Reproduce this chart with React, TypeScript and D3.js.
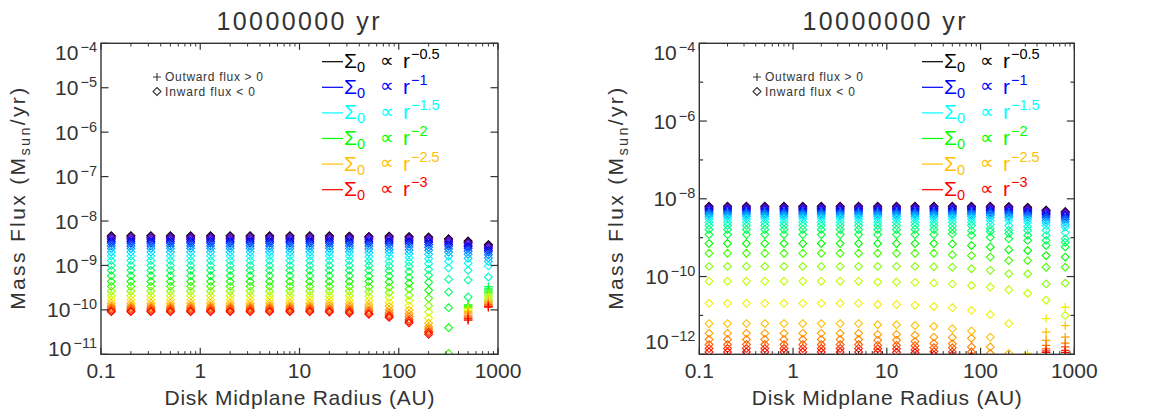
import React from "react";
import * as d3 from "d3";

// ---------------- data ----------------
const radiusAU = [0.127, 0.2, 0.318, 0.5, 0.8, 1.27, 2, 3.18, 5, 8, 12.7, 20, 31.8, 50, 80, 127, 200, 318, 500, 800];
const powerIndex = [0.5, 0.6, 0.7, 0.8, 0.9, 1.0, 1.1, 1.2, 1.3, 1.4, 1.5, 1.6, 1.7, 1.8, 1.9, 2.0, 2.1, 2.2, 2.3, 2.4, 2.5, 2.6, 2.7, 2.8, 2.9, 3.0];

const legendPowers = [0.5, 1, 1.5, 2, 2.5, 3];
const legendExponents = ["\u22120.5", "\u22121", "\u22121.5", "\u22122", "\u22122.5", "\u22123"];
const titleText = "10000000 yr";
const xTickValues = [0.1, 1, 10, 100, 1000];
const xTickLabels = ["0.1", "1", "10", "100", "1000"];
const leftYExponents = [-4, -5, -6, -7, -8, -9, -10, -11];
const rightYExponents = [-4, -5, -6, -7, -8, -9, -10, -11, -12];
const rightYLabelled = [-4, -6, -8, -10, -12];

// log10 |mass flux| (Msun/yr); one array per radius, one value per power index
const innerLeft = [-8.33, -8.34, -8.37, -8.39, -8.42, -8.46, -8.50, -8.56, -8.62, -8.70, -8.79, -8.89, -9.00, -9.11, -9.23, -9.36, -9.47, -9.58, -9.68, -9.77, -9.85, -9.91, -9.95, -9.98, -10.02, -10.04];
const logFluxLeft = [
  innerLeft, innerLeft, innerLeft, innerLeft, innerLeft, innerLeft, innerLeft, innerLeft, innerLeft, innerLeft, innerLeft,
  [-8.33, -8.34, -8.37, -8.39, -8.42, -8.46, -8.50, -8.56, -8.62, -8.70, -8.79, -8.89, -9.00, -9.11, -9.23, -9.36, -9.47, -9.58, -9.68, -9.77, -9.85, -9.91, -9.96, -10.00, -10.03, -10.05],
  [-8.34, -8.35, -8.37, -8.39, -8.42, -8.46, -8.50, -8.56, -8.62, -8.70, -8.79, -8.89, -9.00, -9.11, -9.23, -9.36, -9.47, -9.58, -9.68, -9.78, -9.86, -9.92, -9.97, -10.01, -10.04, -10.07],
  [-8.35, -8.35, -8.37, -8.39, -8.42, -8.46, -8.50, -8.56, -8.63, -8.71, -8.80, -8.90, -9.00, -9.11, -9.24, -9.36, -9.48, -9.59, -9.70, -9.79, -9.88, -9.94, -10.00, -10.04, -10.08, -10.10],
  [-8.34, -8.35, -8.37, -8.40, -8.43, -8.47, -8.51, -8.57, -8.64, -8.71, -8.80, -8.91, -9.01, -9.12, -9.24, -9.37, -9.49, -9.61, -9.72, -9.83, -9.92, -10.00, -10.06, -10.11, -10.14, -10.17],
  [-8.35, -8.36, -8.38, -8.41, -8.44, -8.47, -8.52, -8.58, -8.65, -8.73, -8.82, -8.92, -9.02, -9.14, -9.27, -9.40, -9.53, -9.67, -9.79, -9.91, -10.01, -10.09, -10.15, -10.21, -10.25, -10.29],
  [-8.36, -8.37, -8.39, -8.42, -8.45, -8.48, -8.53, -8.59, -8.66, -8.75, -8.85, -8.96, -9.09, -9.22, -9.38, -9.56, -9.74, -9.91, -10.05, -10.19, -10.30, -10.38, -10.43, -10.48, -10.51, -10.55],
  [-8.40, -8.41, -8.43, -8.46, -8.49, -8.53, -8.57, -8.63, -8.70, -8.79, -8.91, -9.06, -9.31, -9.60, -9.95, -10.40, -10.98, -11.60, -12.00, -12.00, -12.00, -12.00, -12.00, -12.00, -12.00, -12.00],
  [-8.45, -8.47, -8.49, -8.51, -8.55, -8.58, -8.62, -8.68, -8.75, -8.84, -8.95, -9.11, -9.33, -9.71, -11.80, -9.89, -9.93, -9.95, -9.97, -10.01, -10.04, -10.07, -10.12, -10.16, -10.20, -10.23],
  [-8.53, -8.55, -8.57, -8.59, -8.62, -8.66, -8.70, -8.76, -8.83, -8.91, -9.01, -9.26, -9.78, -9.48, -9.53, -9.58, -9.62, -9.67, -9.71, -9.76, -9.80, -9.84, -9.87, -9.89, -9.92, -9.94],
];
// first power-index position whose flux is outward (positive); 26 = none
const outwardFromLeft = [26, 26, 26, 26, 26, 26, 26, 26, 26, 26, 26, 26, 26, 26, 26, 26, 26, 17, 14, 13];

const innerRight = [-8.19, -8.20, -8.22, -8.24, -8.26, -8.29, -8.33, -8.37, -8.41, -8.46, -8.52, -8.60, -8.69, -8.79, -8.92, -9.15, -9.40, -9.74, -10.12, -10.69, -11.21, -11.46, -11.62, -11.75, -11.85, -11.94];
const logFluxRight = [
  innerRight, innerRight, innerRight, innerRight, innerRight, innerRight, innerRight, innerRight, innerRight,
  [-8.19, -8.20, -8.22, -8.24, -8.26, -8.29, -8.33, -8.37, -8.41, -8.46, -8.52, -8.60, -8.69, -8.79, -8.92, -9.15, -9.40, -9.74, -10.14, -10.72, -11.24, -11.49, -11.64, -11.77, -11.86, -11.95],
  [-8.19, -8.20, -8.22, -8.24, -8.26, -8.29, -8.33, -8.37, -8.41, -8.46, -8.52, -8.60, -8.69, -8.79, -8.92, -9.15, -9.40, -9.74, -10.14, -10.72, -11.24, -11.49, -11.64, -11.77, -11.86, -11.95],
  [-8.19, -8.20, -8.22, -8.24, -8.26, -8.29, -8.33, -8.37, -8.41, -8.46, -8.52, -8.60, -8.69, -8.79, -8.92, -9.15, -9.40, -9.74, -10.15, -10.74, -11.26, -11.51, -11.67, -11.78, -11.88, -11.96],
  [-8.19, -8.20, -8.22, -8.24, -8.26, -8.29, -8.33, -8.37, -8.41, -8.46, -8.52, -8.60, -8.69, -8.79, -8.92, -9.15, -9.40, -9.75, -10.17, -10.77, -11.28, -11.56, -11.72, -11.83, -11.93, -12.02],
  [-8.19, -8.20, -8.22, -8.24, -8.26, -8.29, -8.33, -8.37, -8.41, -8.46, -8.52, -8.60, -8.70, -8.80, -8.90, -9.16, -9.44, -9.76, -10.19, -10.80, -11.34, -11.57, -11.73, -11.83, -11.94, -12.02],
  [-8.19, -8.20, -8.22, -8.24, -8.26, -8.29, -8.33, -8.37, -8.41, -8.46, -8.52, -8.60, -8.69, -8.82, -8.94, -9.20, -9.46, -9.80, -10.23, -10.87, -11.40, -11.59, -11.81, -11.94, -12.05, -12.10],
  [-8.19, -8.21, -8.22, -8.24, -8.27, -8.30, -8.34, -8.38, -8.42, -8.48, -8.56, -8.66, -8.77, -8.84, -8.99, -9.24, -9.50, -9.84, -10.27, -10.98, -11.56, -11.81, -11.98, -12.10, -12.20, -12.30],
  [-8.20, -8.21, -8.23, -8.25, -8.28, -8.31, -8.35, -8.39, -8.44, -8.49, -8.56, -8.69, -8.81, -8.89, -9.03, -9.31, -9.59, -9.93, -10.34, -11.21, -11.98, -12.30, -12.30, -12.30, -12.30, -12.30],
  [-8.22, -8.24, -8.26, -8.28, -8.31, -8.34, -8.38, -8.42, -8.47, -8.53, -8.60, -8.71, -8.81, -8.94, -9.07, -9.33, -9.59, -9.93, -10.43, -11.98, -12.50, -12.50, -12.50, -12.50, -12.50, -12.50],
  [-8.29, -8.30, -8.32, -8.34, -8.37, -8.40, -8.44, -8.49, -8.55, -8.61, -8.69, -8.81, -8.94, -9.07, -9.20, -9.46, -9.76, -10.19, -10.61, -11.08, -11.43, -11.64, -11.77, -11.86, -11.91, -11.95],
  [-8.33, -8.34, -8.36, -8.38, -8.41, -8.44, -8.49, -8.53, -8.59, -8.66, -8.73, -8.87, -9.03, -9.12, -9.24, -9.50, -9.76, -10.17, -11.00, -10.79, -11.26, -11.56, -11.71, -11.81, -11.90, -11.95],
];
const outwardFromRight = [26, 26, 26, 26, 26, 26, 26, 26, 26, 26, 26, 26, 26, 26, 26, 26, 26, 19, 19, 19];

// ---------------- style ----------------
const FONT = "'Liberation Sans', Arial, Helvetica, sans-serif";
const INK = "#333333";
const rainbow = d3
  .scaleLinear<string>()
  .domain([0.5, 0.65, 0.75, 0.9, 1.0, 1.25, 1.5, 1.75, 2.0, 2.2, 2.35, 2.45, 2.5, 2.75, 3.0])
  .range(["#000000", "#3a0058", "#6400b0", "#3410e0", "#0000ff", "#0088ff", "#00ffff", "#00ff88", "#00ff00", "#80ff00", "#e0ff00", "#ffe000", "#ffc000", "#ff7000", "#ff0000"])
  .interpolate(d3.interpolateRgb)
  .clamp(true);

type PanelCfg = {
  id: string;
  x0: number; x1: number; y0: number; y1: number;
  yMin: number;
  yTicks: number[];
  yLabelled: number[];
  bottomLabelLift: number;
  data: number[][];
  outwardFrom: number[];
  titleX: number;
  yTitleX: number;
  legendX: number;
  noteX: number;
};

const panels: PanelCfg[] = [
  {
    id: "L", x0: 101, x1: 498, y0: 43.3, y1: 354.3, yMin: 1e-11,
    yTicks: leftYExponents, yLabelled: leftYExponents, bottomLabelLift: 6,
    data: logFluxLeft, outwardFrom: outwardFromLeft,
    titleX: 298, yTitleX: 25, legendX: 322, noteX: 157,
  },
  {
    id: "R", x0: 699.3, x1: 1074.3, y0: 43.3, y1: 354.3, yMin: 1e-12,
    yTicks: rightYExponents, yLabelled: rightYLabelled, bottomLabelLift: 13,
    data: logFluxRight, outwardFrom: outwardFromRight,
    titleX: 884, yTitleX: 623, legendX: 922, noteX: 757,
  },
];

function Panel({ p }: { p: PanelCfg }) {
  const x = d3.scaleLog().domain([0.1, 1000]).range([p.x0, p.x1]);
  const y = d3.scaleLog().domain([p.yMin, 1e-4]).range([p.y1, p.y0]);
  const xMinor: number[] = [];
  for (let e = -1; e < 3; e++) for (let m = 2; m <= 9; m++) xMinor.push(m * Math.pow(10, e));
  const xMajLen = 6.5, xMinLen = 3.2, yMajLen = 7.5, yMinLen = 3.8;
  const D = 3.9; // diamond half size
  const P = 4.3; // plus half size
  const cx = (p.x0 + p.x1) / 2;
  const cy = (p.y0 + p.y1) / 2;

  const markers: React.ReactNode[] = [];
  radiusAU.forEach((r, c) => {
    const px = x(r);
    p.data[c].forEach((lv, s) => {
      const py = y(Math.pow(10, lv));
      if (py > p.y1 + 6) return;
      const col = rainbow(powerIndex[s]);
      const out = s >= p.outwardFrom[c];
      if (out) {
        markers.push(
          <path key={`${c}-${s}`} d={`M${px - P},${py}H${px + P}M${px},${py - P}V${py + P}`} stroke={col} strokeWidth={1.3} fill="none" />
        );
      } else {
        markers.push(
          <path key={`${c}-${s}`} d={`M${px},${py - D}L${px + D},${py}L${px},${py + D}L${px - D},${py}Z`} stroke={col} strokeWidth={1.1} fill="none" />
        );
      }
    });
  });

  return (
    <g>
      <defs>
        <clipPath id={`clip${p.id}`}>
          <rect x={p.x0} y={p.y0} width={p.x1 - p.x0} height={p.y1 - p.y0} />
        </clipPath>
      </defs>
      {/* title */}
      <text x={p.titleX} y={30} textAnchor="middle" fontSize={25} fill={INK} fontFamily={FONT} textLength={163} lengthAdjust="spacing">
        {titleText}
      </text>
      {/* markers */}
      <g clipPath={`url(#clip${p.id})`}>{markers}</g>
      {/* frame */}
      <rect x={p.x0} y={p.y0} width={p.x1 - p.x0} height={p.y1 - p.y0} fill="none" stroke={INK} strokeWidth={1.4} />
      {/* x ticks */}
      {xTickValues.map((v) => (
        <g key={`xt${v}`}>
          <line x1={x(v)} x2={x(v)} y1={p.y1} y2={p.y1 - xMajLen} stroke={INK} strokeWidth={1.2} />
          <line x1={x(v)} x2={x(v)} y1={p.y0} y2={p.y0 + xMajLen} stroke={INK} strokeWidth={1.2} />
        </g>
      ))}
      {xMinor.map((v) => (
        <g key={`xm${v}`}>
          <line x1={x(v)} x2={x(v)} y1={p.y1} y2={p.y1 - xMinLen} stroke={INK} strokeWidth={1} />
          <line x1={x(v)} x2={x(v)} y1={p.y0} y2={p.y0 + xMinLen} stroke={INK} strokeWidth={1} />
        </g>
      ))}
      {xTickValues.map((v, i) => (
        <text key={`xl${v}`} x={x(v)} y={378} textAnchor="middle" fontSize={21} fill={INK} fontFamily={FONT}>
          {xTickLabels[i]}
        </text>
      ))}
      {/* y ticks */}
      {p.yTicks.map((e) => {
        const ty = y(Math.pow(10, e));
        const len = p.yLabelled.includes(e) ? yMajLen : yMinLen;
        return (
          <g key={`yt${e}`}>
            <line x1={p.x0} x2={p.x0 + len} y1={ty} y2={ty} stroke={INK} strokeWidth={1.2} />
            <line x1={p.x1} x2={p.x1 - len} y1={ty} y2={ty} stroke={INK} strokeWidth={1.2} />
          </g>
        );
      })}
      {p.yLabelled.map((e, i) => {
        let ty = y(Math.pow(10, e));
        if (i === 0) ty += 9;
        if (i === p.yLabelled.length - 1) ty -= p.bottomLabelLift;
        return (
          <text key={`yl${e}`} x={p.x0 - 4} y={ty + 7.5} textAnchor="end" fontSize={21} fill={INK} fontFamily={FONT}>
            <tspan>10</tspan>
            <tspan dx={2} dy={-8} fontSize={14.5}>{`\u2212${-e}`}</tspan>
          </text>
        );
      })}
      {/* axis titles */}
      <text x={cx} y={405} textAnchor="middle" fontSize={21} fill={INK} fontFamily={FONT} textLength={270} lengthAdjust="spacing">
        Disk Midplane Radius (AU)
      </text>
      <text transform={`translate(${p.yTitleX},${cy}) rotate(-90)`} textAnchor="middle" fontSize={21} fill={INK} fontFamily={FONT} textLength={222} lengthAdjust="spacing">
        <tspan>Mass Flux (M</tspan>
        <tspan dy={5} fontSize={14.5}>sun</tspan>
        <tspan dy={-5}>/yr)</tspan>
      </text>
      {/* note */}
      <path d={`M${p.noteX - 4},77H${p.noteX + 4}M${p.noteX},73V81`} stroke={INK} strokeWidth={1.1} fill="none" />
      <text x={p.noteX + 8} y={81} fontSize={12} fill={INK} fontFamily={FONT} textLength={98} lengthAdjust="spacing">
        Outward flux &gt; 0
      </text>
      <path d={`M${p.noteX},87.5L${p.noteX + 4},91.5L${p.noteX},95.5L${p.noteX - 4},91.5Z`} stroke={INK} strokeWidth={1.1} fill="none" />
      <text x={p.noteX + 8} y={95.5} fontSize={12} fill={INK} fontFamily={FONT} textLength={90} lengthAdjust="spacing">
        Inward flux &lt; 0
      </text>
      {/* legend */}
      {legendPowers.map((pw, i) => {
        const ly = 61.7 + 25.6 * i;
        const col = rainbow(pw);
        return (
          <g key={`lg${i}`}>
            <line x1={p.legendX} x2={p.legendX + 21} y1={ly} y2={ly} stroke={col} strokeWidth={1.2} />
            <text x={p.legendX + 22} y={ly + 6.5} fontSize={21} fill={col} fontFamily={FONT}>
              <tspan>Σ</tspan>
              <tspan dy={4} fontSize={14.5}>0</tspan>
            </text>
            <text x={p.legendX + 58} y={ly + 5} fontSize={19} fill={col} fontFamily={FONT}>∝</text>
            <text x={p.legendX + 81} y={ly + 6.5} fontSize={21} fill={col} fontFamily={FONT}>
              <tspan>r</tspan>
              <tspan dx={1} dy={-9} fontSize={14.5}>{legendExponents[i]}</tspan>
            </text>
          </g>
        );
      })}
    </g>
  );
}

export default function App() {
  return (
    <svg
      width={1171}
      height={420}
      viewBox="0 0 1171 420"
      style={{ position: "absolute", left: 0, top: 0, background: "#ffffff" }}
    >
      <rect x={0} y={0} width={1171} height={420} fill="#ffffff" />
      {panels.map((p) => (
        <Panel key={p.id} p={p} />
      ))}
    </svg>
  );
}
